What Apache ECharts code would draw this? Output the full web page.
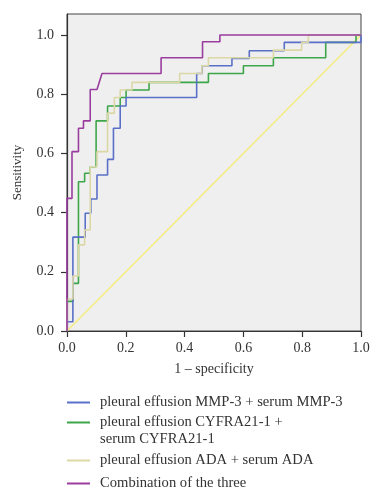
<!DOCTYPE html>
<html>
<head>
<meta charset="utf-8">
<script src="https://cdn.jsdelivr.net/npm/echarts@6/dist/echarts.min.js"></script>
<style>html,body{margin:0;padding:0;background:#fff;}#c{width:383px;height:500px;}</style>
</head>
<body>
<div id="c"></div>
<script>
var xTicks = [0, 0.2, 0.4, 0.6, 0.8, 1.0];
var yTicks = [0, 0.2, 0.4, 0.6, 0.8, 1.0];
var seriesNames = [
  'pleural effusion MMP-3 + serum MMP-3',
  'pleural effusion CYFRA21-1 + serum CYFRA21-1',
  'pleural effusion ADA + serum ADA',
  'Combination of the three'
];
var mmp3 = [[0,0],[0,0.031],[0.02,0.031],[0.02,0.317],[0.062,0.317],[0.062,0.398],[0.081,0.398],[0.081,0.446],[0.102,0.446],[0.102,0.527],[0.138,0.527],[0.138,0.58],[0.158,0.58],[0.158,0.685],[0.181,0.685],[0.181,0.76],[0.201,0.76],[0.201,0.789],[0.441,0.789],[0.441,0.87],[0.46,0.87],[0.46,0.896],[0.561,0.896],[0.561,0.921],[0.62,0.921],[0.62,0.947],[0.739,0.947],[0.739,0.975],[1,0.975],[1,1]];
var cyfra = [[0,0],[0,0.10],[0.02,0.10],[0.02,0.161],[0.039,0.161],[0.039,0.504],[0.06,0.504],[0.06,0.533],[0.079,0.533],[0.079,0.555],[0.099,0.555],[0.099,0.71],[0.138,0.71],[0.138,0.76],[0.181,0.76],[0.181,0.789],[0.201,0.789],[0.201,0.814],[0.279,0.814],[0.279,0.84],[0.481,0.84],[0.481,0.870],[0.60,0.870],[0.60,0.896],[0.702,0.896],[0.702,0.923],[0.88,0.923],[0.88,0.975],[0.983,0.975],[0.983,1.0],[1,1]];
var ada = [[0,0],[0,0.108],[0.02,0.108],[0.02,0.186],[0.039,0.186],[0.039,0.291],[0.06,0.291],[0.06,0.341],[0.079,0.341],[0.079,0.555],[0.102,0.555],[0.102,0.606],[0.138,0.606],[0.138,0.736],[0.161,0.736],[0.161,0.789],[0.181,0.789],[0.181,0.814],[0.221,0.814],[0.221,0.84],[0.383,0.84],[0.383,0.870],[0.459,0.870],[0.459,0.896],[0.481,0.896],[0.481,0.923],[0.702,0.923],[0.702,0.949],[0.798,0.949],[0.798,0.975],[0.821,0.975],[0.821,1.0],[1,1]];
var combo = [[0,0],[0,0.448],[0.017,0.448],[0.017,0.606],[0.039,0.606],[0.039,0.685],[0.056,0.685],[0.056,0.71],[0.079,0.71],[0.079,0.816],[0.102,0.816],[0.119,0.870],[0.32,0.870],[0.32,0.923],[0.461,0.923],[0.461,0.977],[0.52,0.977],[0.52,1.0],[1,1]];
var diagonal = [[0,0],[1,1]];

var colors = ['#5a70c8', '#3ea64a', '#dcd8a6', '#9a3d9e'];
var diagColor = '#f4ec7a';
var serif = '"Liberation Serif", "DejaVu Serif", serif';

function legendFor(i, top, extra) {
  return Object.assign({
    data: [seriesNames[i]],
    left: 67, top: top, padding: 0,
    orient: 'vertical',
    icon: 'rect', itemWidth: 23, itemHeight: 2,
    selectedMode: false,
    formatter: function (n) {
      return n === seriesNames[1] ? 'pleural effusion CYFRA21-1 +\nserum CYFRA21-1' : n;
    },
    textStyle: { fontFamily: serif, fontSize: 14.6, color: '#333', lineHeight: 17, padding: [0, 0, 0, 5] }
  }, extra || {});
}

function roc(i, data) {
  return { name: seriesNames[i], type: 'line', data: data, showSymbol: false,
    lineStyle: { color: colors[i], width: 1.6 }, itemStyle: { color: colors[i] } };
}

var chart = echarts.init(document.getElementById('c'), null, { renderer: 'canvas' });
chart.setOption({
  animation: false,
  grid: { left: 67, right: 22, top: 14, bottom: 169, show: true, backgroundColor: '#efefef', borderColor: '#444', borderWidth: 1 },
  xAxis: {
    type: 'value', min: 0, max: 1, interval: 0.2,
    name: '1 \u2013 specificity', nameLocation: 'middle', nameGap: 31,
    nameTextStyle: { fontFamily: serif, fontSize: 14, color: '#333' },
    axisLine: { show: true, lineStyle: { color: '#333', width: 1.2 } },
    axisTick: { show: true, length: 6, lineStyle: { color: '#333', width: 1.2 } },
    axisLabel: { margin: 10, fontFamily: serif, fontSize: 14, color: '#333', formatter: function (v) { return v.toFixed(1); } },
    splitLine: { show: false }
  },
  yAxis: {
    type: 'value', min: 0, max: 1.071,
    name: 'Sensitivity', nameLocation: 'middle', nameGap: 43, nameRotate: 90,
    nameTextStyle: { fontFamily: serif, fontSize: 13, color: '#333' },
    axisLine: { show: true, lineStyle: { color: '#333', width: 1.2 } },
    axisTick: { show: true, length: 6, customValues: yTicks, lineStyle: { color: '#333', width: 1.2 } },
    axisLabel: { margin: 13, customValues: yTicks, fontFamily: serif, fontSize: 14, color: '#333', formatter: function (v) { return v.toFixed(1); } },
    splitLine: { show: false }
  },
  legend: [
    legendFor(0, 394),
    legendFor(1, 414, { icon: 'path://M0,0H23V2H0Z M0,18.9H0.01V19H0Z', itemHeight: 19 }),
    legendFor(2, 452),
    legendFor(3, 475)
  ],
  series: [
    { name: 'reference', type: 'line', data: diagonal, showSymbol: false, lineStyle: { color: diagColor, width: 1.4 }, itemStyle: { color: diagColor }, silent: true },
    roc(1, cyfra),
    roc(0, mmp3),
    roc(2, ada),
    roc(3, combo)
  ]
});
</script>
</body>
</html>
